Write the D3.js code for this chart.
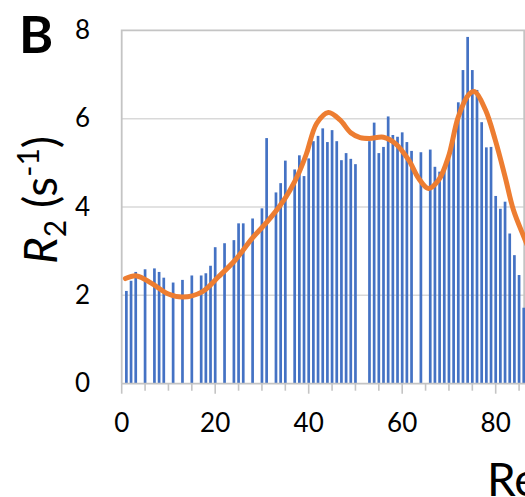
<!DOCTYPE html>
<html>
<head>
<meta charset="utf-8">
<script src="https://cdn.jsdelivr.net/npm/d3@7"></script>
<style>
  html, body { margin: 0; padding: 0; background: #ffffff; }
  svg { display: block; }
  text { font-family: Lato, "Open Sans", "Liberation Sans", sans-serif; fill: #000; }
</style>
</head>
<body>
<svg id="chart" width="525" height="497"></svg>
<script>
// Transverse relaxation rate per residue (bars)
const residues = [1, 2, 3, 5, 7, 8, 9, 11, 13, 15, 17, 18, 19, 20, 22, 24, 25, 26, 28, 30,
  31, 33, 34, 35, 37, 38, 39, 40, 41, 42, 43, 44, 45, 46, 47, 48, 49, 50,
  53, 54, 55, 56, 57, 58, 59, 60, 61, 62, 64, 66, 67, 68, 69, 70, 71,
  72, 73, 74, 75, 76, 77, 78, 79, 80, 81, 82, 83, 84, 85, 86];
const r2Values = [2.10, 2.33, 2.53, 2.59, 2.61, 2.53, 2.40, 2.29, 2.35, 2.45, 2.45, 2.50, 2.67, 3.09, 3.18, 3.25, 3.63, 3.63, 3.74, 3.97,
  5.56, 4.33, 4.54, 5.05, 4.85, 5.17, 4.70, 5.10, 5.49, 5.61, 5.78, 5.47, 5.74, 5.49, 5.06, 5.22, 5.09, 4.97,
  5.49, 5.91, 5.22, 5.36, 6.05, 5.63, 5.59, 5.69, 5.47, 5.27, 5.24, 5.30, 4.91, 4.80, 4.90, 5.10, 5.55,
  6.37, 7.10, 7.85, 7.10, 6.65, 5.92, 5.35, 5.36, 4.25, 3.96, 4.12, 3.40, 2.91, 2.46, 1.72];

// Smoothed trend through the profile
const trendResidue = [0.8, 3.2, 6.4, 10, 13, 17.2, 20.7, 24.3, 27.9, 31, 34, 36, 38, 39.5, 41.7, 44.2, 46.7, 49, 51, 53,
  56, 58.5, 61.4, 63.5, 65.6, 67.8, 69.9, 72, 74.2, 75.5, 77.8, 79.9, 82, 83.8, 86, 87.5];
const trendValue = [2.38, 2.44, 2.27, 2.03, 1.96, 2.08, 2.42, 2.80, 3.29, 3.65, 4.05, 4.38, 4.80, 5.20, 5.89, 6.14, 5.97, 5.68, 5.57, 5.55,
  5.58, 5.44, 5.06, 4.65, 4.42, 4.61, 5.14, 6.04, 6.54, 6.61, 6.20, 5.52, 4.69, 3.93, 3.33, 2.95];

const yTicks = [0, 2, 4, 6, 8];
const xTickLabels = [0, 20, 40, 60, 80];
const xMinorTicks = d3.range(0, 90, 5);

const svg = d3.select("#chart");
const plotLeft = 121.7, plotRight = 525, plotTop = 30.3, plotBottom = 383.7;

const x = d3.scaleLinear().domain([0, (plotRight - plotLeft) / 4.675]).range([plotLeft, plotRight]);
const y = d3.scaleLinear().domain([0, 8]).range([plotBottom, plotTop]);

svg.append("defs").append("clipPath").attr("id", "plotClip")
  .append("rect").attr("x", plotLeft).attr("y", 0).attr("width", plotRight - plotLeft).attr("height", plotBottom);

// Horizontal gridlines
svg.append("g").selectAll("line").data(yTicks.filter(d => d > 0 && d < 8)).join("line")
  .attr("x1", plotLeft).attr("x2", plotRight)
  .attr("y1", d => y(d)).attr("y2", d => y(d))
  .attr("stroke", "#d9d9d9").attr("stroke-width", 1.5);

// Plot frame (top, left, right)
svg.append("path")
  .attr("d", `M${plotLeft},${plotBottom} L${plotLeft},${y(8)} L${plotRight - 0.8},${y(8)} L${plotRight - 0.8},${plotBottom}`)
  .attr("fill", "none").attr("stroke", "#c4c4c4").attr("stroke-width", 1.8);

// Bars
svg.append("g").attr("clip-path", "url(#plotClip)")
  .selectAll("rect").data(residues).join("rect")
  .attr("x", d => x(d) - 1.35)
  .attr("width", 2.7)
  .attr("y", (d, i) => y(r2Values[i]))
  .attr("height", (d, i) => y(0) - y(r2Values[i]))
  .attr("fill", "#4472c4");

// Bottom axis with major/minor ticks
const axisG = svg.append("g");
axisG.append("line").attr("x1", plotLeft).attr("x2", plotRight).attr("y1", plotBottom).attr("y2", plotBottom)
  .attr("stroke", "#c4c4c4").attr("stroke-width", 1.8);
axisG.selectAll("line.tick").data(xMinorTicks).join("line").attr("class", "tick")
  .attr("x1", d => x(d)).attr("x2", d => x(d))
  .attr("y1", plotBottom).attr("y2", d => plotBottom + (d % 20 === 0 ? 10 : 7))
  .attr("stroke", "#c4c4c4").attr("stroke-width", 1.6);
axisG.selectAll("text").data(xTickLabels).join("text")
  .attr("x", d => x(d)).attr("y", 432)
  .attr("text-anchor", "middle").attr("font-size", 26)
  .text(d => d);

// Left tick labels
svg.append("g").selectAll("text").data(yTicks).join("text")
  .attr("x", 90).attr("y", d => y(d) + 8.5)
  .attr("text-anchor", "end").attr("font-size", 26)
  .text(d => d);

// Trend curve
const line = d3.line().x(d => x(d[0])).y(d => y(d[1])).curve(d3.curveCatmullRom.alpha(0.5));
svg.append("path").attr("clip-path", "url(#plotClip)")
  .datum(trendResidue.map((r, i) => [r, trendValue[i]]))
  .attr("d", line)
  .attr("fill", "none").attr("stroke", "#ed7d31").attr("stroke-width", 5)
  .attr("stroke-linecap", "round").attr("stroke-linejoin", "round");

// Panel letter
svg.append("text").attr("x", 19).attr("y", 53)
  .attr("font-size", 52).attr("font-weight", 700).text("B");

// Y axis title
const yt = svg.append("text")
  .attr("transform", "translate(57,200) rotate(-90)")
  .attr("text-anchor", "middle").attr("font-size", 46);
yt.append("tspan").attr("font-style", "italic").text("R");
yt.append("tspan").attr("font-size", 30).attr("dy", 9).text("2");
yt.append("tspan").attr("dy", -9).text(" (s");
yt.append("tspan").attr("font-size", 30).attr("dy", -18).text("-1");
yt.append("tspan").attr("dy", 18).text(")");

// X axis title
svg.append("text").attr("x", 487).attr("y", 496)
  .attr("font-size", 46).text("Residue");
</script>
</body>
</html>
